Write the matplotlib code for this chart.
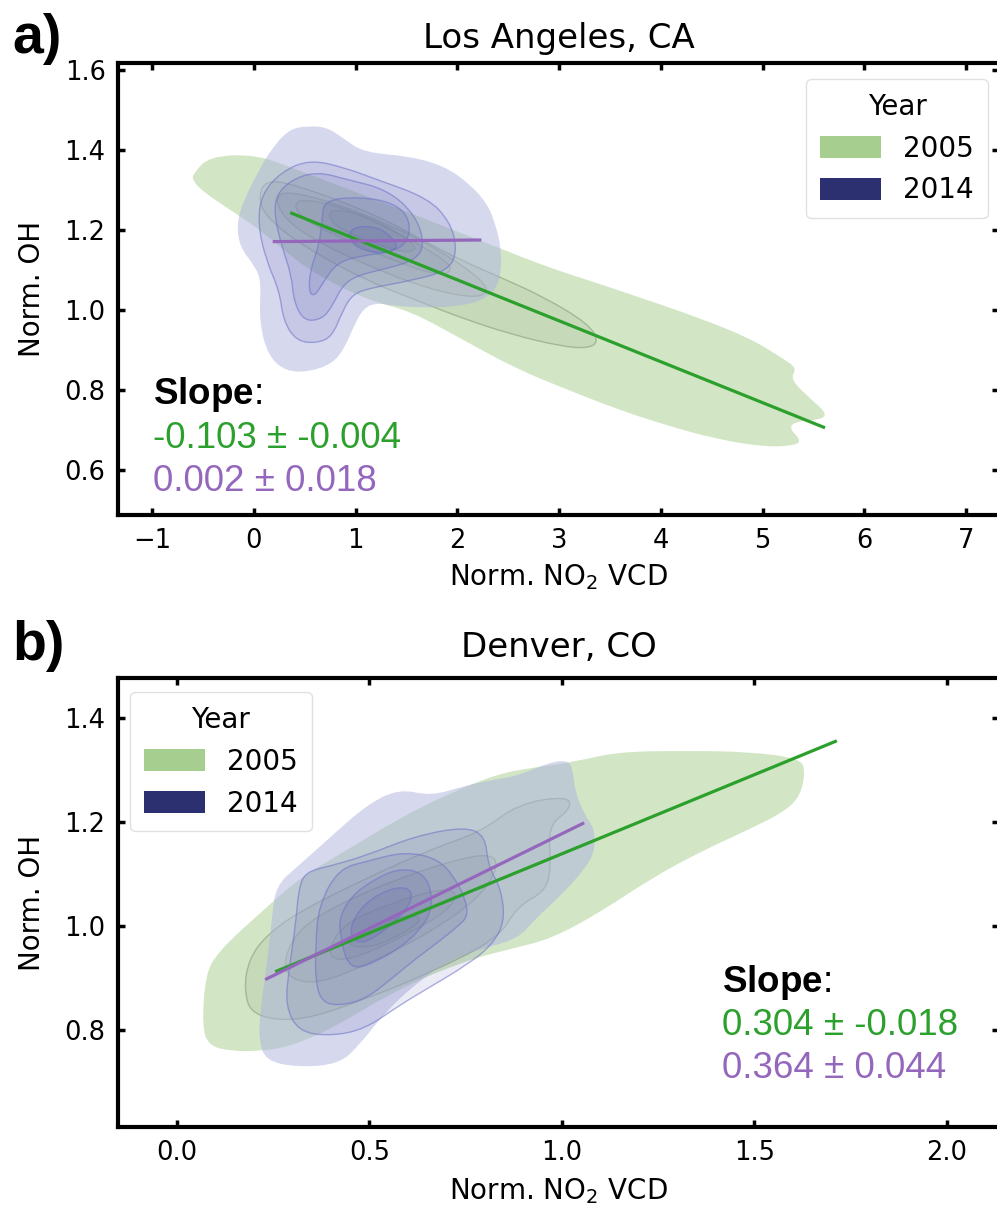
import matplotlib
matplotlib.use("Agg")
import matplotlib.pyplot as plt
from matplotlib.patches import Patch, PathPatch
from matplotlib.path import Path

plt.rcParams["mathtext.rm"] = "Liberation Sans"
plt.rcParams["mathtext.bf"] = "Liberation Sans:bold"

GREEN_LINE = "#2ca02c"
PURPLE_LINE = "#9467bd"
GREEN_FILL = "#a6ce8e"
NAVY_FILL = "#2c2f70"
LAV_FILL = "#aeb2de"

# ---- Los Angeles, CA: density contour outlines (x = norm. NO2 VCD, y = norm. OH)
la05_outer = [(-0.59, 1.343), (-0.44, 1.384), (0.02, 1.389), (0.42, 1.351), (1.21, 1.275),
              (1.91, 1.205), (2.47, 1.149), (2.90, 1.106), (3.39, 1.066), (3.89, 1.023),
              (4.38, 0.980), (4.88, 0.929), (5.20, 0.879), (5.34, 0.854), (5.27, 0.828),
              (5.47, 0.778), (5.62, 0.745), (5.60, 0.727), (5.30, 0.720), (5.27, 0.702),
              (5.37, 0.677), (5.34, 0.662), (5.04, 0.657), (4.55, 0.677), (4.05, 0.712),
              (3.56, 0.753), (3.06, 0.803), (2.57, 0.854), (2.03, 0.929), (1.54, 0.997),
              (1.14, 1.023), (0.65, 1.083), (0.39, 1.129), (0.09, 1.194), (-0.17, 1.240),
              (-0.50, 1.295), (-0.61, 1.326)]
la05_l1 = [(0.10, 1.326), (0.42, 1.313), (1.21, 1.237), (1.71, 1.167), (2.04, 1.124),
           (2.43, 1.081), (2.87, 1.030), (3.29, 0.965), (3.39, 0.922), (3.29, 0.904),
           (3.02, 0.909), (2.53, 0.939), (2.04, 0.980), (1.61, 1.023), (1.11, 1.073),
           (0.52, 1.154), (0.17, 1.220), (0.04, 1.270)]
la05_l2 = [(0.22, 1.301), (0.72, 1.275), (1.41, 1.205), (1.91, 1.136), (2.25, 1.073),
           (2.30, 1.043), (2.15, 1.030), (1.71, 1.053), (1.11, 1.111), (0.52, 1.184),
           (0.24, 1.245)]
la05_l3 = [(0.37, 1.280), (0.82, 1.263), (1.41, 1.194), (1.86, 1.129), (1.96, 1.098),
           (1.81, 1.086), (1.41, 1.119), (0.92, 1.174), (0.47, 1.225)]
la05_l4 = [(0.72, 1.255), (1.11, 1.237), (1.51, 1.179), (1.61, 1.149), (1.46, 1.144),
           (1.11, 1.174), (0.77, 1.212)]

la14_outer = [(0.35, 1.452), (0.52, 1.460), (0.72, 1.457), (0.89, 1.427), (1.08, 1.394),
              (1.54, 1.384), (1.88, 1.359), (2.13, 1.313), (2.30, 1.263), (2.37, 1.217),
              (2.43, 1.157), (2.43, 1.091), (2.37, 1.048), (2.23, 1.023), (2.03, 1.010),
              (1.71, 1.005), (1.38, 1.010), (1.21, 1.018), (1.08, 1.005), (0.99, 0.965),
              (0.89, 0.904), (0.77, 0.866), (0.55, 0.846), (0.32, 0.846), (0.14, 0.884),
              (0.05, 0.972), (0.07, 1.068), (0.02, 1.106), (-0.14, 1.157), (-0.17, 1.217),
              (-0.10, 1.275), (0.05, 1.351), (0.19, 1.409)]
la14_l1 = [(0.07, 1.288), (0.27, 1.346), (0.55, 1.376), (0.89, 1.356), (1.21, 1.326),
           (1.71, 1.280), (1.93, 1.220), (2.00, 1.149), (1.91, 1.098), (1.54, 1.073),
           (1.16, 1.056), (0.97, 1.040), (0.87, 0.997), (0.77, 0.934), (0.62, 0.917),
           (0.42, 0.922), (0.29, 0.972), (0.25, 1.048), (0.12, 1.124), (0.04, 1.212)]
la14_l2 = [(0.22, 1.288), (0.37, 1.326), (0.62, 1.346), (0.92, 1.326), (1.31, 1.301),
           (1.59, 1.237), (1.68, 1.162), (1.58, 1.124), (1.31, 1.104), (1.01, 1.086),
           (0.87, 1.061), (0.77, 1.010), (0.67, 0.977), (0.49, 0.972), (0.39, 1.023),
           (0.37, 1.086), (0.27, 1.162), (0.20, 1.237)]
la14_l3 = [(0.69, 1.275), (1.04, 1.283), (1.38, 1.268), (1.54, 1.225), (1.51, 1.167),
           (1.34, 1.144), (1.06, 1.136), (0.82, 1.119), (0.69, 1.073), (0.60, 1.035),
           (0.54, 1.043), (0.55, 1.098), (0.64, 1.162), (0.67, 1.225)]
la14_l4 = [(0.95, 1.207), (1.21, 1.210), (1.39, 1.174), (1.41, 1.154), (1.28, 1.141),
           (1.06, 1.149), (0.94, 1.174)]

# ---- Denver, CO
den05_outer = [(0.065, 0.807), (0.075, 0.911), (0.109, 0.950), (0.161, 0.988), (0.220, 1.027),
               (0.316, 1.091), (0.446, 1.148), (0.575, 1.206), (0.705, 1.254), (0.834, 1.293),
               (0.938, 1.306), (1.034, 1.316), (1.145, 1.335), (1.319, 1.337), (1.490, 1.335),
               (1.619, 1.322), (1.632, 1.297), (1.619, 1.250), (1.578, 1.220), (1.490, 1.187),
               (1.360, 1.143), (1.231, 1.091), (1.101, 1.027), (0.972, 0.975), (0.868, 0.956),
               (0.749, 0.933), (0.575, 0.879), (0.402, 0.802), (0.290, 0.767), (0.212, 0.759),
               (0.142, 0.759), (0.083, 0.769)]
den05_l1 = [(0.187, 0.936), (0.231, 0.981), (0.316, 1.027), (0.490, 1.091), (0.661, 1.148),
            (0.790, 1.181), (0.886, 1.235), (1.016, 1.250), (1.023, 1.225), (0.964, 1.193),
            (0.972, 1.110), (0.956, 1.066), (0.886, 1.039), (0.834, 0.975), (0.661, 0.911),
            (0.490, 0.859), (0.316, 0.815), (0.194, 0.827), (0.174, 0.879)]
den05_l2 = [(0.277, 0.936), (0.316, 0.994), (0.420, 1.042), (0.575, 1.091), (0.731, 1.129),
            (0.821, 1.139), (0.834, 1.110), (0.782, 1.052), (0.653, 0.985), (0.497, 0.927),
            (0.368, 0.888), (0.290, 0.898)]
den05_l3 = [(0.394, 0.956), (0.433, 1.004), (0.549, 1.042), (0.679, 1.071), (0.731, 1.066),
            (0.705, 1.029), (0.601, 0.985), (0.472, 0.940), (0.407, 0.933)]
den05_l4 = [(0.433, 0.965), (0.497, 0.998), (0.601, 1.023), (0.640, 1.013), (0.588, 0.985),
            (0.497, 0.956)]

den14_outer = [(0.256, 1.077), (0.316, 1.116), (0.402, 1.173), (0.490, 1.231), (0.575, 1.264),
               (0.661, 1.250), (0.749, 1.270), (0.834, 1.283), (0.886, 1.289), (0.972, 1.316),
               (1.016, 1.318), (1.028, 1.302), (1.034, 1.258), (1.060, 1.212), (1.085, 1.187),
               (1.085, 1.143), (1.060, 1.110), (0.997, 1.058), (0.930, 1.013), (0.886, 0.975),
               (0.790, 0.956), (0.705, 0.933), (0.619, 0.888), (0.541, 0.834), (0.472, 0.769),
               (0.420, 0.734), (0.316, 0.728), (0.231, 0.740), (0.212, 0.782), (0.218, 0.846),
               (0.231, 0.911), (0.246, 1.008)]
den14_l1 = [(0.334, 1.104), (0.402, 1.116), (0.490, 1.135), (0.619, 1.173), (0.749, 1.191),
            (0.801, 1.173), (0.808, 1.116), (0.842, 1.071), (0.852, 1.008), (0.816, 0.961),
            (0.749, 0.923), (0.661, 0.884), (0.575, 0.846), (0.490, 0.802), (0.402, 0.788),
            (0.316, 0.796), (0.282, 0.846), (0.290, 0.911), (0.308, 1.000), (0.316, 1.071)]
den14_l2 = [(0.368, 1.039), (0.420, 1.110), (0.497, 1.125), (0.593, 1.143), (0.679, 1.129),
            (0.723, 1.091), (0.749, 1.052), (0.756, 1.019), (0.731, 1.000), (0.679, 0.969),
            (0.619, 0.936), (0.557, 0.898), (0.490, 0.859), (0.420, 0.846), (0.376, 0.854),
            (0.360, 0.892), (0.360, 0.961)]
den14_l3 = [(0.420, 1.013), (0.453, 1.058), (0.516, 1.091), (0.575, 1.110), (0.635, 1.104),
            (0.661, 1.071), (0.661, 1.027), (0.627, 0.988), (0.575, 0.956), (0.516, 0.931),
            (0.464, 0.917), (0.438, 0.936), (0.427, 0.975)]
den14_l4 = [(0.446, 0.994), (0.484, 1.042), (0.549, 1.071), (0.601, 1.075), (0.614, 1.052),
            (0.575, 1.013), (0.510, 0.975), (0.466, 0.965)]

# regression lines: (x_start, x_end), (y_start, y_end)
la_fit05 = ([0.37, 5.60], [1.242, 0.707])
la_fit14 = ([0.20, 2.22], [1.171, 1.175])
den_fit05 = ([0.259, 1.710], [0.913, 1.355])
den_fit14 = ([0.233, 1.054], [0.898, 1.197])

la_slopes = ["-0.103 ± -0.004", "0.002 ± 0.018"]
den_slopes = ["0.304 ± -0.018", "0.364 ± 0.044"]
years = ["2005", "2014"]


def smooth_path(poly):
    # closed outline drawn as quadratic curves, the read vertices act as control points
    n = len(poly)
    mids = [((poly[i][0] + poly[(i + 1) % n][0]) / 2, (poly[i][1] + poly[(i + 1) % n][1]) / 2)
            for i in range(n)]
    verts = [mids[-1]]
    codes = [Path.MOVETO]
    for i in range(n):
        verts += [poly[i], mids[i]]
        codes += [Path.CURVE3, Path.CURVE3]
    verts.append(mids[-1])
    codes.append(Path.CLOSEPOLY)
    return Path(verts, codes)


def draw_kde(ax, outer, inner, year):
    if year == "2005":
        base, inner_fc, inner_ec = GREEN_FILL, "#5f7a55", "#7f9a70"
    else:
        base, inner_fc, inner_ec = LAV_FILL, "#3a3f98", "#6b70c8"
    ax.add_patch(PathPatch(smooth_path(outer), facecolor=base, alpha=0.5,
                           edgecolor="none", zorder=1))
    for poly in inner:
        ax.add_patch(PathPatch(smooth_path(poly), facecolor=inner_fc, alpha=0.1,
                               edgecolor="none", zorder=1))
        ax.add_patch(PathPatch(smooth_path(poly), facecolor="none", edgecolor=inner_ec,
                               alpha=0.55, lw=1.0, zorder=1))


def style_axes(ax):
    for s in ax.spines.values():
        s.set_linewidth(3.0)
    ax.tick_params(direction="in", top=True, right=True, length=5, width=2.5,
                   labelsize=18.5)
    ax.tick_params(axis="x", pad=9)
    ax.tick_params(axis="y", pad=9)


def slope_text(ax, x, ys, vals):
    kw = dict(transform=ax.transAxes, fontsize=26.5, family="Liberation Sans",
              va="baseline")
    ax.text(x, ys[0], r"$\mathbf{Slope}$:", math_fontfamily="custom", **kw)
    ax.text(x, ys[1], vals[0], color=GREEN_LINE, **kw)
    ax.text(x, ys[2], vals[1], color=PURPLE_LINE, **kw)


def legend(ax, loc, anchor):
    handles = [Patch(facecolor=GREEN_FILL, edgecolor="none"),
               Patch(facecolor=NAVY_FILL, edgecolor="none")]
    leg = ax.legend(handles, years, title="Year", loc=loc, bbox_to_anchor=anchor,
                    borderaxespad=0, fontsize=20, title_fontsize=20,
                    handlelength=2.2, handleheight=0.85, labelspacing=0.5,
                    handletextpad=0.8, borderpad=0.5)
    leg.get_frame().set_edgecolor("0.85")
    leg.set_zorder(10)


fig = plt.figure(figsize=(9.97, 12.07), dpi=100)
ax_a = fig.add_axes([118 / 997, 1 - 515 / 1207, 881 / 997, 452 / 1207])
ax_b = fig.add_axes([118 / 997, 1 - 1127 / 1207, 881 / 997, 449 / 1207])

# panel a
draw_kde(ax_a, la05_outer, [la05_l1, la05_l2, la05_l3, la05_l4], "2005")
draw_kde(ax_a, la14_outer, [la14_l1, la14_l2, la14_l3, la14_l4], "2014")
ax_a.plot(*la_fit05, color=GREEN_LINE, lw=2.3, zorder=3)
ax_a.plot(*la_fit14, color=PURPLE_LINE, lw=2.3, zorder=3)
ax_a.set_xlim(-1.337, 7.325)
ax_a.set_ylim(0.4875, 1.6175)
ax_a.set_xticks(range(-1, 8))
ax_a.set_yticks([0.6, 0.8, 1.0, 1.2, 1.4, 1.6])
ax_a.set_title("Los Angeles, CA", fontsize=24.5, pad=11)
ax_a.set_xlabel(r"Norm. NO$_2$ VCD", fontsize=20)
ax_a.set_ylabel("Norm. OH", fontsize=20)
ax_a.xaxis.set_label_coords(0.5, -0.105)
ax_a.yaxis.set_label_coords(-0.082, 0.5)
style_axes(ax_a)
slope_text(ax_a, 0.0397, [0.2456, 0.148, 0.053], la_slopes)
legend(ax_a, "upper right", (0.9875, 0.965))

# panel b
draw_kde(ax_b, den05_outer, [den05_l1, den05_l2, den05_l3, den05_l4], "2005")
draw_kde(ax_b, den14_outer, [den14_l1, den14_l2, den14_l3, den14_l4], "2014")
ax_b.plot(*den_fit05, color=GREEN_LINE, lw=2.3, zorder=3)
ax_b.plot(*den_fit14, color=PURPLE_LINE, lw=2.3, zorder=3)
ax_b.set_xlim(-0.153, 2.135)
ax_b.set_ylim(0.613, 1.477)
ax_b.set_xticks([0.0, 0.5, 1.0, 1.5, 2.0])
ax_b.set_yticks([0.8, 1.0, 1.2, 1.4])
ax_b.set_title("Denver, CO", fontsize=24.5, pad=15)
ax_b.set_xlabel(r"Norm. NO$_2$ VCD", fontsize=20)
ax_b.set_ylabel("Norm. OH", fontsize=20)
ax_b.xaxis.set_label_coords(0.5, -0.11)
ax_b.yaxis.set_label_coords(-0.082, 0.5)
style_axes(ax_b)
slope_text(ax_b, 0.6856, [0.3007, 0.205, 0.109], den_slopes)
legend(ax_b, "upper left", (0.0136, 0.969))

fig.text(12 / 997, 1 - 53 / 1207, "a)", fontsize=40, fontweight="bold",
         family="Liberation Sans", va="baseline")
fig.text(12 / 997, 1 - 660 / 1207, "b)", fontsize=40, fontweight="bold",
         family="Liberation Sans", va="baseline")

fig.savefig("out.png", dpi=100)
